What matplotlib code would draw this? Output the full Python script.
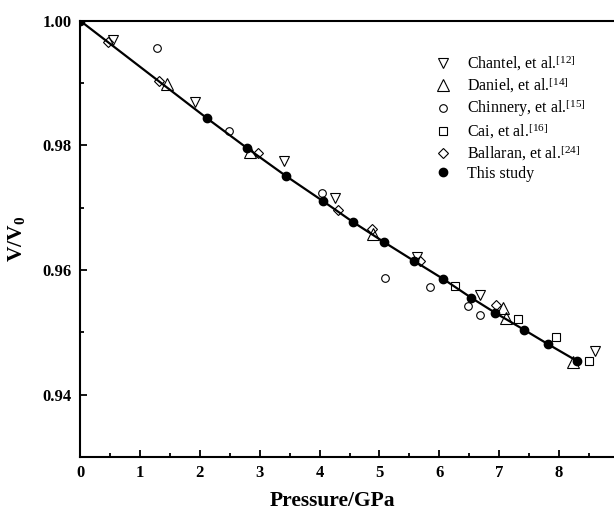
import numpy as np
import matplotlib
matplotlib.use("Agg")
import matplotlib.pyplot as plt

plt.rcParams['font.family'] = 'Liberation Serif'
plt.rcParams['mathtext.fontset'] = 'custom'
plt.rcParams['mathtext.rm'] = 'Liberation Serif'
plt.rcParams['mathtext.it'] = 'Liberation Serif:italic'
plt.rcParams['mathtext.bf'] = 'Liberation Serif:bold'

# --- data (P in GPa, V/V0) ---
chantel_p = [0.55, 1.92, 3.41, 4.26, 5.62, 6.68, 8.60]
chantel_v = [0.99690, 0.98700, 0.97749, 0.97151, 0.96214, 0.95599, 0.94706]

daniel_p = [1.45, 2.84, 4.89, 7.07, 7.11, 8.24]
daniel_v = [0.98984, 0.97897, 0.96574, 0.95386, 0.95225, 0.94529]

chinnery_p = [1.29, 2.48, 4.04, 5.10, 5.85, 6.48, 6.68]
chinnery_v = [0.99562, 0.98230, 0.97231, 0.95867, 0.95723, 0.95423, 0.95279]

cai_p = [6.26, 7.32, 7.94, 8.50]
cai_v = [0.95743, 0.95209, 0.94930, 0.94545]

ballaran_p = [0.47, 1.31, 2.97, 4.31, 4.87, 5.68, 6.95]
ballaran_v = [0.99653, 0.99037, 0.97875, 0.96963, 0.96653, 0.96143, 0.95439]

study_p = [0.0, 2.12, 2.78, 3.44, 4.06, 4.55, 5.08, 5.57, 6.06, 6.53, 6.93, 7.42, 7.81, 8.30]
study_v = [1.0, 0.98434, 0.97962, 0.97507, 0.97103, 0.96775, 0.96445, 0.96150,
           0.95859, 0.95556, 0.95315, 0.95038, 0.94813, 0.94540]

fig = plt.figure(figsize=(6.14, 5.12), dpi=100)
ax = fig.add_axes([80.1 / 614, 1 - 457 / 512, (619 - 80.1) / 614, (457 - 20.7) / 512])

ax.plot(study_p, study_v, color='black', lw=1.6, zorder=3)

open_kw = dict(ls='none', mfc='none', mec='black', mew=0.8, zorder=4)
ax.plot(chantel_p, chantel_v, marker='v', ms=7, label=r'Chantel, et al.$^{\mathrm{[12]}}$', **open_kw)
ax.plot(daniel_p, daniel_v, marker='^', ms=8, label=r'Daniel, et al.$^{\mathrm{[14]}}$', **open_kw)
ax.plot(chinnery_p, chinnery_v, marker='o', ms=5.5, label=r'Chinnery, et al.$^{\mathrm{[15]}}$', **open_kw)
ax.plot(cai_p, cai_v, marker='s', ms=5.2, label=r'Cai, et al.$^{\mathrm{[16]}}$', **open_kw)
ax.plot(ballaran_p, ballaran_v, marker='D', ms=5, label=r'Ballaran, et al.$^{\mathrm{[24]}}$', **open_kw)
ax.plot(study_p, study_v, ls='none', marker='o', ms=6, color='black', label='This study', zorder=5)

ax.set_xlim(0, 9)
ax.set_ylim(0.93, 1.0)
ax.set_xticks(np.arange(0, 9, 1))
ax.set_xticks(np.arange(0.5, 9, 1), minor=True)
ax.set_yticks([0.94, 0.96, 0.98, 1.00])
ax.set_yticks([0.95, 0.97, 0.99], minor=True)
ax.yaxis.set_major_formatter(matplotlib.ticker.FormatStrFormatter('%.2f'))

ax.tick_params(which='both', direction='in', width=1.3, labelsize=12)
ax.tick_params(which='major', length=5)
ax.tick_params(which='minor', length=3)
ax.tick_params(axis='x', pad=6)
ax.tick_params(axis='y', pad=6)
for lab in ax.get_xticklabels() + ax.get_yticklabels():
    lab.set_fontweight('bold')
for sp in ax.spines.values():
    sp.set_linewidth(1.5)

ax.set_xlabel('Pressure/GPa', fontsize=15.5, fontweight='bold')
ax.xaxis.set_label_coords(0.469, -0.078)
ax.set_ylabel(r'$\mathbf{V/V_0}$', fontsize=15.5)
ax.yaxis.set_label_coords(-0.098, 0.5)

ax.legend(loc='upper left', bbox_to_anchor=(427 / 614, 1 - 45 / 512),
          bbox_transform=fig.transFigure, frameon=False, fontsize=11.5,
          borderpad=0, handlelength=1.0, handletextpad=1.0, labelspacing=0.15)

fig.savefig('out.png', dpi=100)
